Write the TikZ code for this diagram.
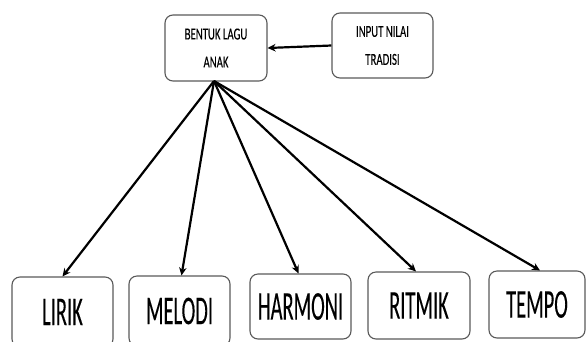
\documentclass[tikz,border=0pt]{standalone}
\usepackage{fontspec}
\newfontfamily\topfont[FakeStretch=0.64,FakeBold=0.2]{Carlito}
\newfontfamily\botfont[FakeStretch=0.5,FakeBold=0.15]{Carlito}
\usetikzlibrary{arrows.meta}
\begin{document}
\begin{tikzpicture}[x=1pt,y=-1pt,
  box/.style={draw=black!65,line width=1.1pt,rounded corners=8pt,inner sep=0pt,align=center},
  topbox/.style={box,minimum width=102pt,minimum height=66pt,font=\topfont\fontsize{16.8}{28}\selectfont},
  botbox/.style={box,minimum width=101pt,minimum height=66pt,font=\botfont\fontsize{41}{44}\selectfont},
  conn/.style={line width=2.2pt,-{Stealth[length=8pt,width=7.5pt]}}]
\useasboundingbox (0,0) rectangle (586,341);
\node[topbox] (bentuk) at (216,48) {BENTUK LAGU\\ANAK};
\node[topbox,minimum width=101pt,minimum height=65pt] (input) at (382.5,45.5) {INPUT NILAI\\TRADISI};
\node[botbox,minimum height=70pt] (lirik) at (62.5,312) {LIRIK};
\node[botbox,minimum height=70pt] (melodi) at (179.5,311) {MELODI};
\node[botbox,minimum height=65pt] (harmoni) at (300.5,306.5) {HARMONI};
\node[botbox,minimum width=102pt,minimum height=67pt] (ritmik) at (419,305.5) {RITMIK};
\node[botbox,minimum width=96pt,minimum height=67pt] (tempo) at (537,304.5) {TEMPO};
\coordinate (src) at (214,81);
\draw[conn] (input.west) -- (bentuk.east);
\draw[conn] (src) -- (lirik.north);
\draw[conn] (src) -- ([xshift=2pt]melodi.north);
\draw[conn] (src) -- ([xshift=-2pt]harmoni.north);
\draw[conn] (src) -- ([xshift=-3pt]ritmik.north);
\draw[conn] (src) -- ([xshift=3pt]tempo.north);
\end{tikzpicture}
\end{document}
